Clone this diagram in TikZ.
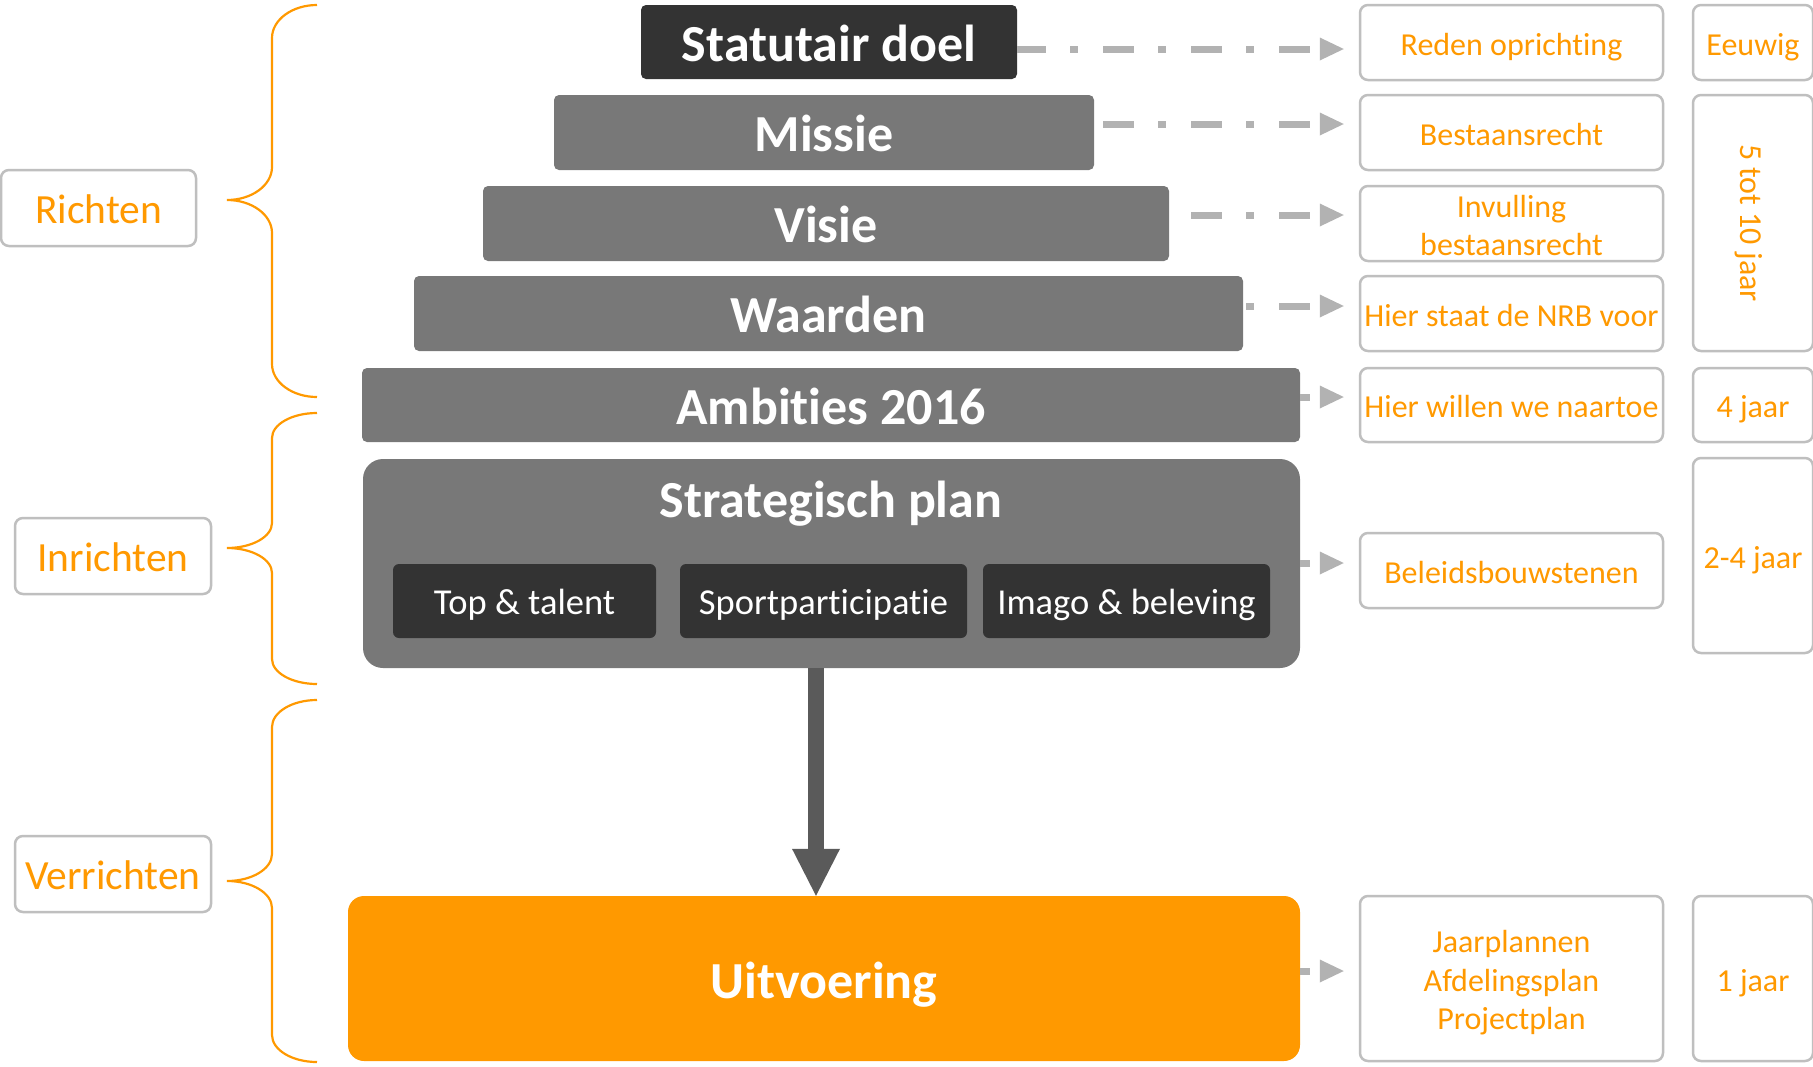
\documentclass[tikz,border=0pt]{standalone}
\usepackage{fontspec}
\setmainfont{Carlito}[Ligatures={NoCommon}]
\usetikzlibrary{arrows.meta,calc}
\definecolor{barg}{RGB}{120,120,120}
\definecolor{bardk}{RGB}{51,51,51}
\definecolor{orng}{RGB}{255,153,0}
\definecolor{lgr}{RGB}{178,178,178}
\definecolor{bord}{RGB}{191,191,191}
\definecolor{arrg}{RGB}{90,90,90}
\newcommand\mybrace[4]{%
  \draw[brace] (317,#1) .. controls (292,#1) and (272,{#1+0.45*#4}) .. (272,{#1+#4})
  -- (272,{#2-#4}) .. controls (272,{#2-0.45*#4}) and (252,#2) .. (227,#2)
  .. controls (252,#2) and (272,{#2+0.45*#4}) .. (272,{#2+#4})
  -- (272,{#3-#4}) .. controls (272,{#3-0.45*#4}) and (292,#3) .. (317,#3);}
\begin{document}
\begin{tikzpicture}[x=1pt,y=-1pt,
  bar/.style={fill=barg, rounded corners=5pt, inner sep=0pt, text=white,
    font=\fontsize{52}{62}\selectfont\bfseries, text height=38.5pt, text depth=0pt},
  darkbar/.style={bar, fill=bardk},
  sub/.style={fill=bardk, rounded corners=6pt, inner sep=0pt, text=white,
    font=\fontsize{36.5}{44}\selectfont, text height=26pt, text depth=0pt,
    minimum height=74pt},
  tbox/.style={draw=bord, line width=2.5pt, rounded corners=8pt, inner sep=0pt,
    text=orng, font=\fontsize{32}{38.5}\selectfont, align=center},
  ttext/.style={inner sep=0pt, text=orng, font=\fontsize{32}{38.5}\selectfont, align=center},
  onel/.style={text height=25pt, text depth=0pt},
  lbl/.style={tbox, font=\fontsize{41.5}{50}\selectfont, text height=30.5pt, text depth=0pt},
  conn/.style={draw=lgr, line width=7pt,
    dash pattern=on 0pt off 10pt on 31pt off 25pt on 8pt off 14pt,
    {Triangle[length=24pt,width=23pt,line width=0pt]}-},
  bigarr/.style={draw=arrg, line width=16pt, -{Triangle[length=47pt,width=48pt,line width=0pt]}},
  brace/.style={draw=orng, line width=2.2pt}
]
\fill[white] (0,0) rectangle (1813,1066);
\useasboundingbox (0,0) rectangle (1813,1066);
\clip (0,0) rectangle (1813,1066);

% pyramid bars
\node[darkbar, minimum width=376pt, minimum height=74pt] (stat) at (829,42) {Statutair doel};
\node[bar, minimum width=540pt, minimum height=75pt] (missie) at (824,132.5) {Missie};
\node[bar, minimum width=686pt, minimum height=75pt] (visie) at (826,223.5) {Visie};
\node[bar, minimum width=829pt, minimum height=75pt] (waarden) at (828.5,313.5) {Waarden};
\node[bar, minimum width=938pt, minimum height=74pt] (amb) at (831,405) {Ambities 2016};

% strategisch plan
\node[fill=barg, rounded corners=20pt, minimum width=937pt, minimum height=209pt] (strat) at (831.5,563.5) {};
\node[bar, fill=none] (stratT) at (831,498.5) {Strategisch plan};
\node[sub, minimum width=263pt] (sub1) at (524.5,601) {Top \& talent};
\node[sub, minimum width=287pt] (sub2) at (823.5,601) {Sportparticipatie};
\node[sub, minimum width=287pt] (sub3) at (1126.5,601) {Imago \& beleving};

% uitvoering
\node[bar, fill=orng, rounded corners=16pt, minimum width=952pt, minimum height=165pt] (uitv) at (824,978.5) {};
\node[bar, fill=none] (uitvT) at (824,979.5) {Uitvoering};

% right boxes
\node[tbox, onel, minimum width=303pt, minimum height=75pt] (r1) at (1511.5,42.5) {Reden oprichting};
\node[tbox, onel, minimum width=303pt, minimum height=75pt] (r2) at (1511.5,132.5) {Bestaansrecht};
\node[tbox, minimum width=303pt, minimum height=75pt] (r3) at (1511.5,223.5) {};
\node[ttext] (r3t) at (1511.5,225.5) {Invulling\\bestaansrecht};
\node[tbox, onel, minimum width=303pt, minimum height=75pt] (r4) at (1511.5,313.5) {Hier staat de NRB voor};
\node[tbox, onel, minimum width=303pt, minimum height=74pt] (r5) at (1511.5,405) {Hier willen we naartoe};
\node[tbox, onel, minimum width=303pt, minimum height=75pt] (r6) at (1511.5,570.5) {Beleidsbouwstenen};
\node[tbox, minimum width=303pt, minimum height=165pt] (r7) at (1511.5,978.5) {};
\node[ttext] (r7t) at (1511.5,983) {Jaarplannen\\Afdelingsplan\\Projectplan};

% far right boxes
\node[tbox, onel, minimum width=120pt, minimum height=75pt] (f1) at (1753,42.5) {Eeuwig};
\node[tbox, onel, rotate=-90, minimum width=256pt, minimum height=120pt] (f2) at (1753,223) {5 tot 10 jaar};
\node[tbox, onel, minimum width=120pt, minimum height=74pt] (f3) at (1753,405) {4 jaar};
\node[tbox, onel, minimum width=120pt, minimum height=195pt] (f4) at (1753,555.5) {2-4 jaar};
\node[tbox, onel, minimum width=120pt, minimum height=165pt] (f5) at (1753,978.5) {1 jaar};

% left labels
\node[lbl, minimum width=195pt, minimum height=76pt] (richten) at (98.5,208) {Richten};
\node[lbl, minimum width=196pt, minimum height=76pt] (inrichten) at (113,556) {Inrichten};
\node[lbl, minimum width=196pt, minimum height=76pt] (verrichten) at (113,874) {Verrichten};

% braces
\mybrace{5}{200}{397}{33}
\mybrace{413}{548}{684}{25}
\mybrace{700}{881}{1062}{27}

% connectors
\draw[conn] ($(r1.west |- 0,49)+(-15,0)$) -- (stat.east |- 0,49);
\draw[conn] ($(r2.west |- 0,124)+(-15,0)$) -- (missie.east |- 0,124);
\draw[conn] ($(r3.west |- 0,215)+(-15,0)$) -- (visie.east |- 0,215);
\draw[conn] ($(r4.west |- 0,306)+(-15,0)$) -- (waarden.east |- 0,306);
\draw[conn] ($(r5.west |- 0,397)+(-15,0)$) -- (amb.east |- 0,397);
\draw[conn] ($(r6.west |- 0,563)+(-15,0)$) -- (strat.east |- 0,563);
\draw[conn] ($(r7.west |- 0,971)+(-15,0)$) -- (uitv.east |- 0,971);

% main arrow
\draw[bigarr] (strat.south -| 816,0) -- (uitv.north -| 816,0);
\end{tikzpicture}
\end{document}
